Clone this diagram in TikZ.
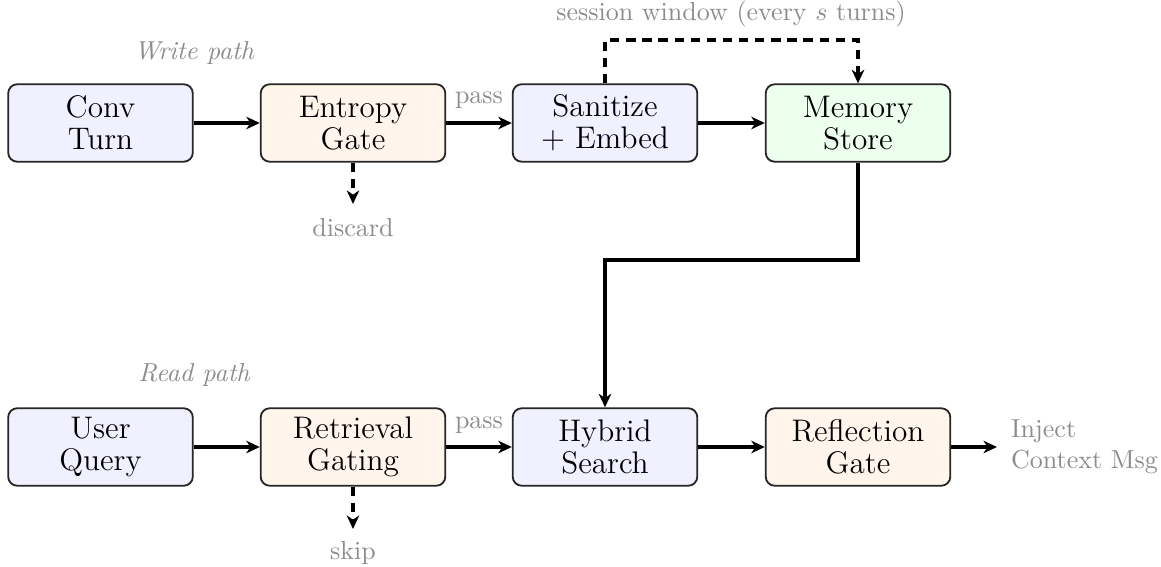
\documentclass[tikz,border=0pt]{standalone}
\usetikzlibrary{arrows.meta}
\begin{document}
\begin{tikzpicture}[x=0.3846pt,y=-0.3846pt,
  box/.style={draw=black!85, line width=0.7pt, rounded corners=3.5pt, minimum width=71pt, minimum height=29.8pt, align=center, inner sep=2pt, font={\fontsize{12}{12.4}\selectfont}},
  bluebox/.style={box, fill=blue!6},
  orangebox/.style={box, fill=orange!8},
  greenbox/.style={box, fill=green!7},
  flow/.style={line width=1.2pt, -{Stealth[length=5.2pt,width=4.8pt,inset=1.6pt]}},
  dflow/.style={flow, dash pattern=on 3.6pt off 2.6pt},
  note/.style={text=black!45, inner sep=1pt},
  lbl/.style={note, font=\itshape}]
\useasboundingbox (0,0) rectangle (1161,567);
% write path
\node[bluebox] (conv) at (100.5,123) {Conv\\Turn};
\node[orangebox] (ent) at (353,123) {Entropy\\Gate};
\node[bluebox] (san) at (605,123) {Sanitize\\+ Embed};
\node[greenbox] (mem) at (858,123) {Memory\\Store};
% read path
\node[bluebox] (user) at (100.5,447) {User\\Query};
\node[orangebox] (ret) at (353,447) {Retrieval\\Gating};
\node[bluebox] (hyb) at (605,447) {Hybrid\\Search};
\node[orangebox] (refl) at (858,447) {Reflection\\Gate};
% labels
\node[lbl] (wlabel) at (194,53) {Write path};
\node[lbl] (rlabel) at (194,375) {Read path};
\node[note] (sess) at (731,14) {session window (every $s$ turns)};
\node[note] (pass1) at (479,100) {pass};
\node[note] (pass2) at (479,425) {pass};
\node[note] (disc) at (353,228) {discard};
\node[note] (skip) at (353,553) {skip};
\node[note, anchor=west, align=left] (inj) at (1008,447) {Inject\\Context Msg};
\coordinate (discend) at (353,204);
\coordinate (skipend) at (353,529);
\coordinate (injend) at (997,447);
% connectors
\draw[flow] (conv) -- (ent);
\draw[flow] (ent) -- (san);
\draw[flow] (san) -- (mem);
\draw[flow] (user) -- (ret);
\draw[flow] (ret) -- (hyb);
\draw[flow] (hyb) -- (refl);
\draw[flow] (refl) -- (injend);
\draw[dflow] (ent.south) -- (discend);
\draw[dflow] (ret.south) -- (skipend);
\draw[dflow] (san.north) |- (731,40) -| (mem.north);
\draw[flow] (mem.south) |- (731,260) -| (hyb.north);
\end{tikzpicture}
\end{document}
